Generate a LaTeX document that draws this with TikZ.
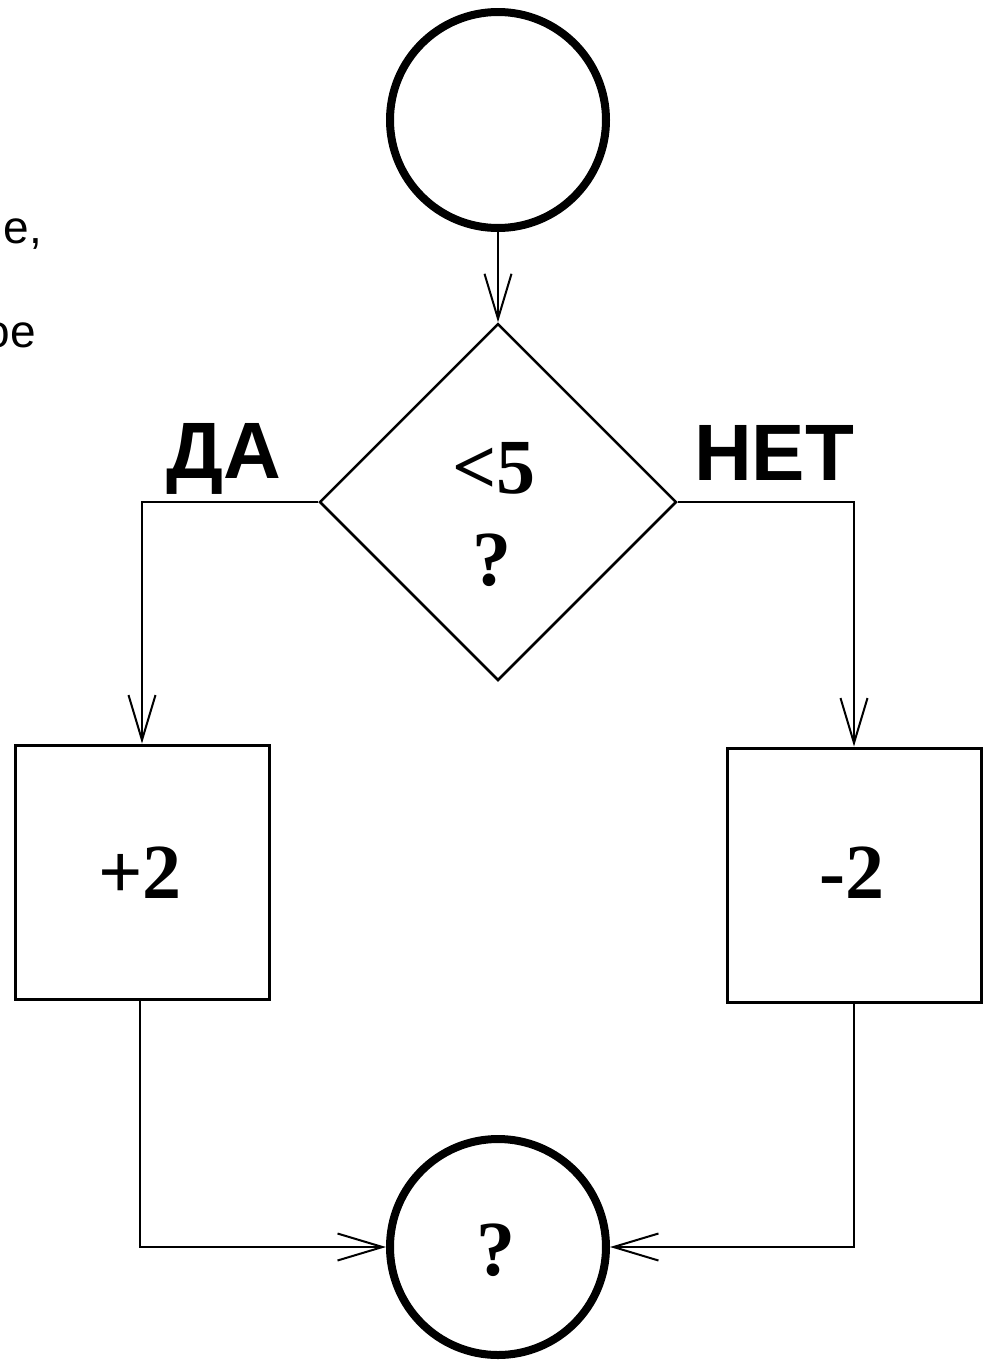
\documentclass[tikz,border=0pt]{standalone}
\usepackage{fontspec}
\setmainfont{Liberation Serif}
\setsansfont{Liberation Sans}
\usetikzlibrary{arrows.meta,shapes.geometric}
\tikzset{
  termcircle/.style={circle,draw,line width=8pt,minimum size=216pt,inner sep=0pt},
  opbox/.style={rectangle,draw,line width=3pt,minimum width=254pt,minimum height=254pt,inner sep=0pt},
  decision/.style={diamond,draw,line width=2.5pt,minimum width=357pt,minimum height=357pt,inner sep=0pt},
  conn/.style={line width=2pt,-{Straight Barb[length=45pt,width=27pt,line width=2pt]}},
  bigserif/.style={font=\fontsize{78}{78}\selectfont\bfseries,inner sep=0pt},
  bigsans/.style={font=\fontsize{80}{80}\selectfont\sffamily\bfseries,inner sep=0pt},
  sidetext/.style={font=\fontsize{46}{46}\selectfont\sffamily,inner sep=0pt}
}
\begin{document}
\begin{tikzpicture}[x=1pt,y=-1pt]
\useasboundingbox (0,0) rectangle (988,1361);
\node[termcircle] (c1) at (498,120) {};
\node[decision] (d) at (498,502) {};
\node[opbox] (b1) at (142,872) {};
\node[opbox] (b2) at (854,875) {};
\node[termcircle] (c2) at (498,1247) {};
% texts
\node[bigserif,anchor=base] (t5) at (494,493) {<5};
\node[bigserif,anchor=base] (tq) at (492,585) {?};
\node[bigserif,anchor=base] (tp) at (140,898) {+2};
\node[bigserif,anchor=base] (tm) at (852,898) {-2};
\node[bigserif,anchor=base] (tq2) at (496,1275) {?};
\node[bigsans,anchor=base] (da) at (224,478) {ДА};
\node[bigsans,anchor=base] (net) at (774,480) {НЕТ};
\node[sidetext,anchor=base east] (s1) at (42,243) {ие,};
\node[sidetext,anchor=base east] (s2) at (36,347) {ое};
% connectors
\draw[conn] (c1.south) -- (d.north);
\draw[conn] (d.west) -| (b1.north);
\draw[conn] (d.east) -| (b2.north);
\draw[conn] ([xshift=-2pt]b1.south) |- (c2.west);
\draw[conn] (b2.south) |- (c2.east);
\end{tikzpicture}
\end{document}
